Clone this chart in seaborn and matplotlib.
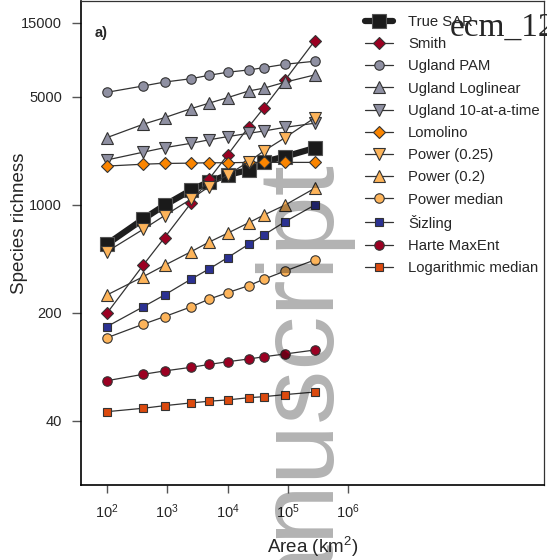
import numpy as np
import pandas as pd
import matplotlib
matplotlib.use('Agg')
import matplotlib.pyplot as plt
from matplotlib.ticker import FixedLocator, NullLocator, FixedFormatter
import seaborn as sns

sns.set_style('white')
plt.rcParams['font.family'] = ['Liberation Sans', 'DejaVu Sans']
plt.rcParams['mathtext.default'] = 'regular'

# areas (km2) sampled along the curve
areas = [100, 400, 900, 2500, 4900, 10000, 22500, 40000, 90000, 280000]

true_sar = [556, 809, 993, 1247, 1406, 1560, 1680, 1900, 2050, 2330]
smith = [199, 408, 613, 1032, 1463, 2100, 3200, 4240, 6410, 11520]
ugland_pam = [5340, 5870, 6220, 6540, 6880, 7200, 7450, 7710, 8110, 8480]
ugland_loglinear = [2720, 3320, 3660, 4190, 4540, 4930, 5450, 5680, 6210, 6920]
ugland_10 = [1950, 2190, 2340, 2500, 2630, 2760, 2900, 3000, 3170, 3370]
lomolino = [1780, 1830, 1850, 1860, 1870, 1870, 1880, 1880, 1880, 1880]
power_025 = [498, 695, 851, 1091, 1310, 1560, 1900, 2230, 2720, 3660]
power_02 = [261, 343, 406, 498, 573, 655, 766, 859, 997, 1280]
power_median = [138, 169, 189, 219, 245, 270, 300, 330, 373, 440]
sizling = [163, 219, 261, 331, 384, 455, 556, 638, 778, 997]
harte = [72.8, 80.1, 84.2, 88.9, 92.7, 96.6, 100.6, 104, 108.4, 115]
log_median = [45.9, 48.3, 50.2, 52.3, 53.6, 54.7, 56.5, 57.4, 59.2, 61.5]

series_names = ['True SAR', 'Smith', 'Ugland PAM', 'Ugland Loglinear',
                'Ugland 10-at-a-time', 'Lomolino', 'Power (0.25)', 'Power (0.2)',
                'Power median', u'\u0160izling', 'Harte MaxEnt', 'Logarithmic median']
series_values = [true_sar, smith, ugland_pam, ugland_loglinear, ugland_10, lomolino,
                 power_025, power_02, power_median, sizling, harte, log_median]

ytick_vals = [40, 200, 1000, 5000, 15000]
xtick_vals = [1e2, 1e3, 1e4, 1e5, 1e6]

# marker / colour style per series
styles = {
    'True SAR': dict(marker='s', mfc='#1a1a1a', ms=9.5, lw=4.5, color='#1e1e1e', mec='#555555'),
    'Smith': dict(marker='D', mfc='#9b0022', ms=6.5),
    'Ugland PAM': dict(marker='o', mfc='#8f90a2', ms=6.8),
    'Ugland Loglinear': dict(marker='^', mfc='#8f90a2', ms=8),
    'Ugland 10-at-a-time': dict(marker='v', mfc='#8f90a2', ms=8),
    'Lomolino': dict(marker='D', mfc='#fb8500', ms=6.5),
    'Power (0.25)': dict(marker='v', mfc='#fdb45a', ms=8),
    'Power (0.2)': dict(marker='^', mfc='#fdb45a', ms=8),
    'Power median': dict(marker='o', mfc='#fdb45a', ms=6.8),
    u'\u0160izling': dict(marker='s', mfc='#2b3192', ms=6),
    'Harte MaxEnt': dict(marker='o', mfc='#9b0022', ms=6.8),
    'Logarithmic median': dict(marker='s', mfc='#dc4a0e', ms=6),
}

df = pd.DataFrame({
    'area': np.tile(areas, len(series_names)),
    'richness': np.concatenate(series_values),
    'model': np.repeat(series_names, len(areas)),
})

fig = plt.figure(figsize=(5.47, 5.60), dpi=100)
ax = fig.add_axes([81 / 547, 1 - 485 / 560, 463 / 547, 484 / 560])

for name in series_names:
    st = styles[name]
    sub = df[df['model'] == name]
    sns.lineplot(data=sub, x='area', y='richness', ax=ax, sort=False, legend=False,
                 errorbar=None, label=name, color=st.get('color', '#333333'),
                 linewidth=st.get('lw', 0.9), marker=st['marker'],
                 markersize=st['ms'], markerfacecolor=st['mfc'],
                 markeredgecolor=st.get('mec', '#333333'), markeredgewidth=0.8)

ax.set_xscale('log')
ax.set_yscale('log')
ax.set_xlim(10 ** 1.569, 10 ** 9.247)
ax.set_ylim(15.4, 20800)

ax.xaxis.set_major_locator(FixedLocator(xtick_vals))
ax.xaxis.set_major_formatter(FixedFormatter(['$10^{%d}$' % int(np.log10(v)) for v in xtick_vals]))
ax.xaxis.set_minor_locator(NullLocator())
ax.yaxis.set_major_locator(FixedLocator(ytick_vals))
ax.yaxis.set_major_formatter(FixedFormatter([str(v) for v in ytick_vals]))
ax.yaxis.set_minor_locator(NullLocator())

ax.tick_params(axis='y', which='major', direction='out', length=6.5, width=1,
               color='#555555', labelsize=10.5, pad=7, left=True)
ax.tick_params(axis='x', which='major', direction='out', length=5.5, width=1,
               color='#555555', labelsize=10.5, pad=7, bottom=True)

for side in ['left', 'bottom']:
    ax.spines[side].set_color('black')
    ax.spines[side].set_linewidth(1.2)
for side in ['top', 'right']:
    ax.spines[side].set_color('#333333')
    ax.spines[side].set_linewidth(0.9)

ax.set_xlabel('Area (km$^2$)', fontsize=13.5)
ax.set_ylabel('Species richness', fontsize=13.5)
ax.xaxis.set_label_coords(0.5, -0.103)
ax.yaxis.set_label_coords(-0.114, 0.541)

ax.text(0.03, 0.934, 'a)', transform=ax.transAxes, fontsize=10.5,
        fontweight='bold', va='center', ha='left')

handles, labels = ax.get_legend_handles_labels()
ax.legend(handles, labels, loc='upper left', bbox_to_anchor=(0.583, 1.0),
          frameon=False, fontsize=10.7, handlelength=1.9, handletextpad=1.0,
          labelspacing=0.55, borderaxespad=0.75, borderpad=0.2)

# watermark and page id
fig.text(0.56, 1 - 165 / 560, 'Accepted manuscript', rotation=90, ha='center',
         va='top', fontsize=78, color='black', alpha=0.3)
fig.text(450 / 547, 1 - 36 / 560, 'ecm_12', fontsize=24, va='baseline', ha='left',
         family=['Liberation Serif', 'DejaVu Serif'])

fig.savefig('out.png', dpi=100)
